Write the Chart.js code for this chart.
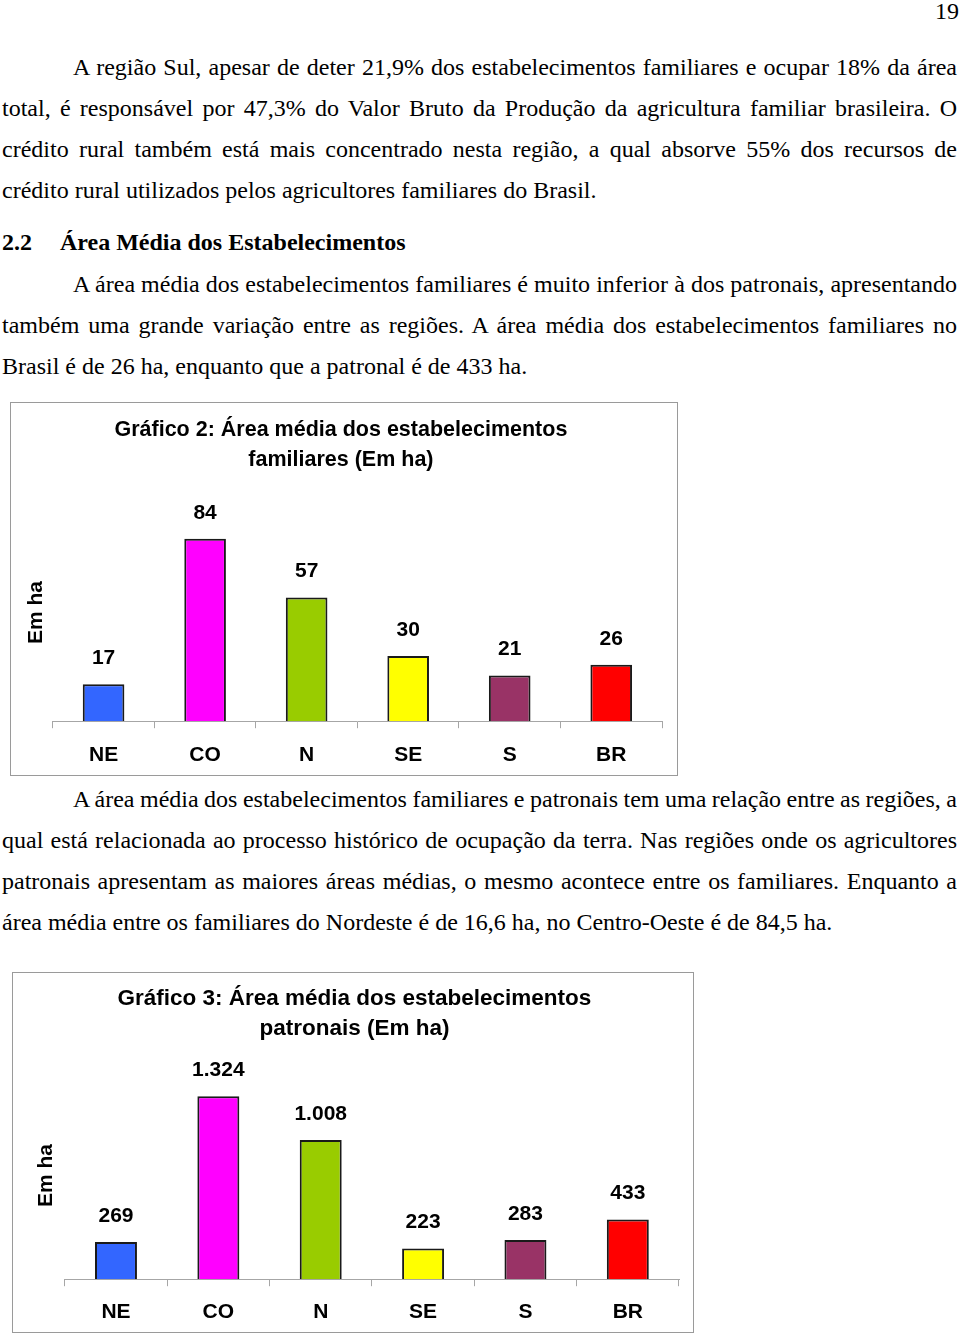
<!DOCTYPE html>
<html lang="pt-BR">
<head>
<meta charset="utf-8">
<script src="https://cdn.jsdelivr.net/npm/chart.js@4.4.1/dist/chart.umd.min.js"></script>
<style>
  html, body { margin: 0; padding: 0; background: #fff; }
  body { width: 960px; height: 1337px; position: relative; overflow: hidden;
         font-family: 'Liberation Serif', 'Times New Roman', serif; color: #000; }
  .ln { position: absolute; left: 2px; width: 955px; font-size: 24px; line-height: 24px; height: 24px;
        text-align: justify; text-align-last: justify; white-space: normal; word-spacing: -3px; }
  .ln.last { text-align: left; text-align-last: left; word-spacing: 0; }
  .ln.ind { padding-left: 71px; width: 884px; }
  .hd { position: absolute; font-size: 24px; line-height: 24px; font-weight: bold; }
  .box { position: absolute; border: 1px solid #9a9a9a; background: #fff; }
  .box canvas { display: block; }
  .pg { position: absolute; left: 935px; font-size: 24px; line-height: 24px; }
</style>
</head>
<body>
<script>
// ---- data ----
const categories = ['NE', 'CO', 'N', 'SE', 'S', 'BR'];
const familiarValues = [17, 84, 57, 30, 21, 26];
const patronalValues = [269, 1324, 1008, 223, 283, 433];
const familiarTitle = ['Gráfico 2: Área média dos estabelecimentos', 'familiares (Em ha)'];
const patronalTitle = ['Gráfico 3: Área média dos estabelecimentos', 'patronais (Em ha)'];
const axisTitle = 'Em ha';
const familiarMax = 100;
const patronalMax = 1500;
</script>

<div class="pg" style="top:-1px">19</div>

<div class="ln ind" style="top:55px">A região Sul, apesar de deter 21,9% dos estabelecimentos familiares e ocupar 18% da área</div>
<div class="ln" style="top:96px">total, é responsável por 47,3% do Valor Bruto da Produção da agricultura familiar brasileira. O</div>
<div class="ln" style="top:137px">crédito rural também está mais concentrado nesta região, a qual absorve 55% dos recursos de</div>
<div class="ln last" style="top:178px">crédito rural utilizados pelos agricultores familiares do Brasil.</div>

<div class="hd" style="top:230px; left:2px">2.2</div>
<div class="hd" style="top:230px; left:60px">Área Média dos Estabelecimentos</div>

<div class="ln ind" style="top:272px">A área média dos estabelecimentos familiares é muito inferior à dos patronais, apresentando</div>
<div class="ln" style="top:313px">também uma grande variação entre as regiões. A área média dos estabelecimentos familiares no</div>
<div class="ln last" style="top:354px">Brasil é de 26 ha, enquanto que a patronal é de 433 ha.</div>

<div class="box" style="left:10px; top:402px; width:666px; height:372px;">
  <canvas id="c1" width="666" height="372"></canvas>
</div>

<div class="ln ind" style="top:787px">A área média dos estabelecimentos familiares e patronais tem uma relação entre as regiões, a</div>
<div class="ln" style="top:828px">qual está relacionada ao processo histórico de ocupação da terra. Nas regiões onde os agricultores</div>
<div class="ln" style="top:869px">patronais apresentam as maiores áreas médias, o mesmo acontece entre os familiares. Enquanto a</div>
<div class="ln last" style="top:910px">área média entre os familiares do Nordeste é de 16,6 ha, no Centro-Oeste é de 84,5 ha.</div>

<div class="box" style="left:12px; top:972px; width:680px; height:359px;">
  <canvas id="c2" width="680" height="359"></canvas>
</div>

<script>
const barColors = ['#3366ff', '#ff00ff', '#99cc00', '#ffff00', '#993366', '#ff0000'];
const SANS = "'Liberation Sans', Arial, Helvetica, sans-serif";

function fmt(v) {
  return String(v).replace(/\B(?=(\d{3})+(?!\d))/g, '.');
}

const valueLabels = {
  id: 'valueLabels',
  afterDatasetsDraw(chart) {
    const ctx = chart.ctx;
    ctx.save();
    ctx.font = "bold 21px " + SANS;
    ctx.fillStyle = '#000';
    ctx.textAlign = 'center';
    ctx.textBaseline = 'middle';
    chart.data.datasets.forEach((ds, di) => {
      chart.getDatasetMeta(di).data.forEach((bar, i) => {
        ctx.fillText(fmt(ds.data[i]), bar.x, bar.y - 26);
      });
    });
    ctx.restore();
  }
};

function makeChart(id, values, titleLines, maxV, lay) {
  return new Chart(document.getElementById(id), {
    type: 'bar',
    data: {
      labels: categories,
      datasets: [{
        data: values,
        backgroundColor: barColors,
        borderColor: '#1a1a1a',
        borderWidth: 2,
        borderSkipped: 'start',
        categoryPercentage: 1,
        barPercentage: 0.41
      }]
    },
    options: {
      responsive: false,
      animation: false,
      devicePixelRatio: 1,
      layout: { padding: { left: lay.left, right: lay.right, top: 0, bottom: lay.bottom } },
      plugins: {
        legend: { display: false },
        tooltip: { enabled: false },
        title: {
          display: true,
          text: titleLines,
          color: '#000',
          font: { family: SANS, size: lay.titleSize, weight: 'bold', lineHeight: '30px' },
          padding: { top: lay.titleTop, bottom: lay.titleBottom }
        }
      },
      scales: {
        x: {
          grid: { display: true, drawOnChartArea: false, drawTicks: true, tickLength: 7, color: '#a6a6a6', lineWidth: 1, offset: true },
          border: { display: true, color: '#a6a6a6', width: 1 },
          ticks: { color: '#000', font: { family: SANS, size: 21, weight: 'bold' }, padding: lay.tickPad, maxRotation: 0 }
        },
        y: {
          min: 0,
          max: maxV,
          display: true,
          grid: { display: false, drawTicks: false },
          border: { display: false },
          ticks: { display: false },
          title: {
            display: true,
            text: axisTitle,
            color: '#000',
            font: { family: SANS, size: 21, weight: 'bold', lineHeight: 1.2 },
            padding: { top: 4, bottom: lay.yTitleBottom }
          }
        }
      }
    },
    plugins: [valueLabels]
  });
}

makeChart('c1', familiarValues, familiarTitle, familiarMax,
  { left: 8.8, right: 15, bottom: -6.4, titleTop: 12, titleBottom: 29, tickPad: 14, yTitleBottom: 3.8, titleSize: 21.5 });
makeChart('c2', patronalValues, patronalTitle, patronalMax,
  { left: 16.8, right: 14, bottom: -5.4, titleTop: 11, titleBottom: 28, tickPad: 13, yTitleBottom: 5.8, titleSize: 22.5 });
</script>
</body>
</html>
